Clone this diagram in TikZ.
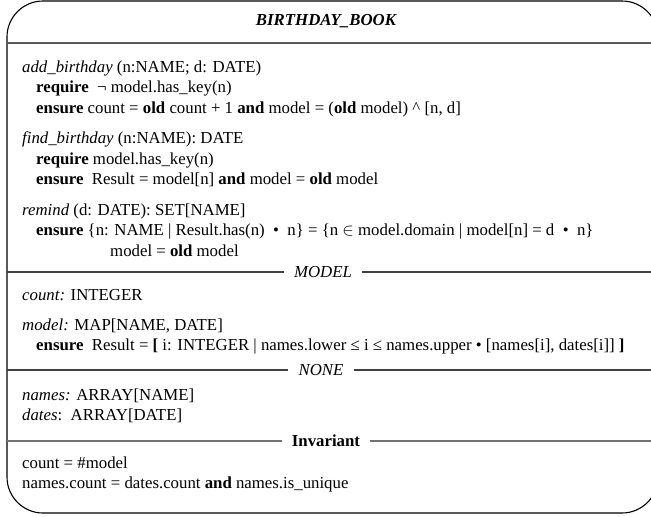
\documentclass[tikz,border=0pt]{standalone}
\usepackage{fontspec}
\setmainfont{Liberation Serif}
\begin{document}
\begin{tikzpicture}[x=1pt,y=-1pt,
  txt/.style={anchor=base west, inner sep=0pt, font=\fontsize{16.8}{20}\selectfont},
  seplabel/.style={inner xsep=10pt, inner ysep=0pt, font=\fontsize{16.8}{20}\selectfont},
  sep/.style={draw=black!75, line width=1.3pt},
  frame/.style={draw=black, line width=1.1pt, rounded corners=36pt}]
\useasboundingbox (0,0) rectangle (651,517);
\clip (0,0) rectangle (651,517);
\draw[frame] (7,1) rectangle (658,513);
\node[font=\fontsize{16.8}{20}\selectfont\bfseries\itshape, inner sep=0pt] (title) at (326,21) {BIRTHDAY\_BOOK};
\draw[sep, draw=black!65] (7,43) -- (658,43);
% operations
\node[txt] (add) at (22,72) {\textit{add\_birthday} (n:NAME; d: DATE)};
\node[txt] (req1) at (36,92.5) {\textbf{require}\ \ ¬ model.has\_key(n)};
\node[txt] (ens1) at (36,113) {\textbf{ensure} count = \textbf{old} count + 1 \textbf{and} model = (\textbf{old} model) \^{} [n, d]};
\node[txt] (find) at (22,143.5) {\textit{find\_birthday} (n:NAME): DATE};
\node[txt] (req2) at (36,164) {\textbf{require} model.has\_key(n)};
\node[txt] (ens2) at (36,184.5) {\textbf{ensure}\ \ Result = model[n] \textbf{and} model = \textbf{old} model};
\node[txt] (remind) at (22,215) {\textit{remind} (d: DATE): SET[NAME]};
\node[txt] (ens3) at (36,235.5) {\textbf{ensure} \{n: NAME | Result.has(n)\ \ •\ \ n\} = \{n $\in$ model.domain | model[n] = d\ \ •\ \ n\}};
\node[txt] (mod) at (110,256) {model = \textbf{old} model};
% MODEL
\node[seplabel] (lmodel) at (323,272) {\textit{MODEL}};
\draw[sep] (7,272) -- (lmodel.west);
\draw[sep] (lmodel.east) -- (658,272);
\node[txt] (count) at (22,300) {\textit{count:} INTEGER};
\node[txt] (model) at (22,330) {\textit{model:} MAP[NAME, DATE]};
\node[txt] (ens4) at (36,350.5) {\textbf{ensure}\ \ Result = \textbf{[} i: INTEGER | names.lower ≤ i ≤ names.upper • [names[i], dates[i]] \textbf{]}};
% NONE
\node[seplabel] (lnone) at (321,370) {\textit{NONE}};
\draw[sep] (7,370) -- (lnone.west);
\draw[sep] (lnone.east) -- (658,370);
\node[txt] (names) at (22,400) {\textit{names:} ARRAY[NAME]};
\node[txt] (dates) at (22,420) {\textit{dates}:\ \ ARRAY[DATE]};
% Invariant
\node[seplabel] (linv) at (326,441) {\textbf{Invariant}};
\draw[sep, draw=black!55] (7,441) -- (linv.west);
\draw[sep, draw=black!55] (linv.east) -- (658,441);
\node[txt] (inv1) at (22,468) {count = \#model};
\node[txt] (inv2) at (22,488) {names.count = dates.count \textbf{and} names.is\_unique};
\end{tikzpicture}
\end{document}
